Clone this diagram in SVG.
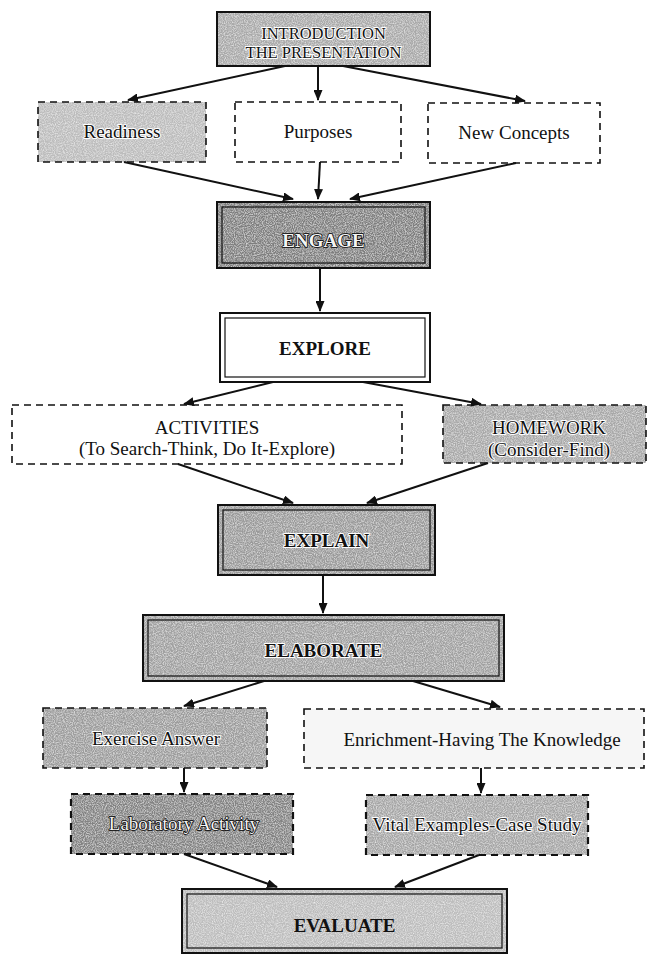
<svg xmlns="http://www.w3.org/2000/svg" width="648" height="956" viewBox="0 0 648 956">
<defs>
<marker id="ah" markerWidth="11" markerHeight="9" refX="10" refY="4.5" orient="auto" markerUnits="userSpaceOnUse">
<path d="M0,0 L11,4.5 L0,9 z" fill="#111"/>
</marker>
<filter id="grain" x="0" y="0" width="100%" height="100%">
<feTurbulence type="fractalNoise" baseFrequency="0.9" numOctaves="2" seed="3" result="n"/>
<feColorMatrix in="n" type="matrix" values="0 0 0 0 1  0 0 0 0 1  0 0 0 0 1  0 0 0 1.2 -0.45" result="a"/>
<feComposite in="a" in2="SourceGraphic" operator="in" result="g"/>
<feMerge><feMergeNode in="SourceGraphic"/><feMergeNode in="g"/></feMerge>
</filter>
<style>
.t{font-family:"Liberation Serif","Times New Roman",serif;font-size:19px;text-anchor:middle;fill:#111}
.b{font-weight:bold}
.emb{fill:#f4f4f4;stroke:#000;stroke-width:1.6px;paint-order:stroke;stroke-linejoin:round}
.halo{stroke:#fff;stroke-width:2px;paint-order:stroke;stroke-linejoin:round}
.dash{stroke:#111;stroke-width:1.6;stroke-dasharray:7 5}
.solid{stroke:#111;stroke-width:2;fill:none}
.inner{stroke:#111;stroke-width:1.2;fill:none}
.c line{stroke:#111;stroke-width:2;marker-end:url(#ah)}
</style>
</defs>
<rect width="648" height="956" fill="#fff"/>

<g id="intro">
<rect x="217" y="12" width="213" height="54" fill="#a9a9a9" filter="url(#grain)"/>
<rect x="217" y="12" width="213" height="54" class="solid"/>
<text class="t halo" x="323.5" y="39" style="font-size:16.5px">INTRODUCTION</text>
<text class="t halo" x="323.5" y="58" style="font-size:16.5px">THE PRESENTATION</text>
</g>

<g id="readiness">
<rect x="38" y="102" width="168" height="60" fill="#bcbcbc" filter="url(#grain)"/>
<rect x="38" y="102" width="168" height="60" fill="none" class="dash"/>
<text class="t halo" x="122" y="138">Readiness</text>
</g>

<g id="purposes">
<rect x="235" y="102" width="166" height="60" fill="#fff" class="dash"/>
<text class="t" x="318" y="138">Purposes</text>
</g>

<g id="newconcepts">
<rect x="428" y="103" width="172" height="60" fill="#fff" class="dash"/>
<text class="t" x="514" y="139">New Concepts</text>
</g>

<g id="engage">
<rect x="217" y="202" width="213" height="66" fill="#7e7e7e" filter="url(#grain)"/>
<rect x="217" y="202" width="213" height="66" class="solid"/>
<rect x="222" y="207" width="203" height="56" class="inner"/>
<text class="t b emb" x="323.5" y="247">ENGAGE</text>
</g>

<g id="explore">
<rect x="220" y="313" width="210" height="69" fill="#fff" class="solid"/>
<rect x="225" y="318" width="200" height="59" class="inner"/>
<text class="t b" x="325" y="355">EXPLORE</text>
</g>

<g id="activities">
<rect x="12" y="405" width="390" height="59" fill="#fff" class="dash"/>
<text class="t" x="207" y="434">ACTIVITIES</text>
<text class="t" x="207" y="455">(To Search-Think, Do It-Explore)</text>
</g>

<g id="homework">
<rect x="443" y="405" width="203" height="58" fill="#a8a8a8" filter="url(#grain)"/>
<rect x="443" y="405" width="203" height="58" fill="none" class="dash"/>
<text class="t halo" x="549" y="434">HOMEWORK</text>
<text class="t halo" x="549" y="456">(Consider-Find)</text>
</g>

<g id="explain">
<rect x="218" y="505" width="217" height="70" fill="#9a9a9a" filter="url(#grain)"/>
<rect x="218" y="505" width="217" height="70" class="solid"/>
<rect x="223" y="510" width="207" height="60" class="inner"/>
<text class="t b halo" x="326.5" y="547">EXPLAIN</text>
</g>

<g id="elaborate">
<rect x="143" y="615" width="361" height="66" fill="#a0a0a0" filter="url(#grain)"/>
<rect x="143" y="615" width="361" height="66" class="solid"/>
<rect x="148" y="620" width="351" height="56" class="inner"/>
<text class="t b halo" x="323.5" y="657">ELABORATE</text>
</g>

<g id="exercise">
<rect x="43" y="708" width="224" height="60" fill="#9c9c9c" filter="url(#grain)"/>
<rect x="43" y="708" width="224" height="60" fill="none" class="dash"/>
<text class="t halo" x="156" y="745">Exercise Answer</text>
</g>

<g id="enrichment">
<rect x="304" y="709" width="340" height="59" fill="#f6f6f6" class="dash"/>
<text class="t" x="482" y="746">Enrichment-Having The Knowledge</text>
</g>

<g id="laboratory">
<rect x="71" y="794" width="222" height="60" fill="#828282" filter="url(#grain)"/>
<rect x="71" y="794" width="222" height="60" fill="none" class="dash" style="stroke-width:2.2"/>
<text class="t emb" x="184" y="830">Laboratory Activity</text>
</g>

<g id="vital">
<rect x="366" y="795" width="222" height="60" fill="#a6a6a6" filter="url(#grain)"/>
<rect x="366" y="795" width="222" height="60" fill="none" class="dash" style="stroke-width:2.2"/>
<text class="t halo" x="477" y="831">Vital Examples-Case Study</text>
</g>

<g id="evaluate">
<rect x="182" y="889" width="325" height="64" fill="#bdbdbd" filter="url(#grain)"/>
<rect x="182" y="889" width="325" height="64" class="solid"/>
<rect x="187" y="894" width="315" height="54" class="inner"/>
<text class="t b" x="344.5" y="932">EVALUATE</text>
</g>

<g id="connectors" class="c">
<line x1="285" y1="66" x2="128" y2="100"/>
<line x1="318" y1="66" x2="318" y2="100"/>
<line x1="343" y1="66" x2="525" y2="101"/>
<line x1="124" y1="162" x2="293" y2="199"/>
<line x1="320" y1="162" x2="318" y2="199"/>
<line x1="516" y1="163" x2="350" y2="199"/>
<line x1="320" y1="268" x2="320" y2="311"/>
<line x1="273" y1="382" x2="184" y2="404"/>
<line x1="363" y1="382" x2="481" y2="404"/>
<line x1="178" y1="464" x2="293" y2="503"/>
<line x1="488" y1="463" x2="367" y2="503"/>
<line x1="323" y1="575" x2="323" y2="613"/>
<line x1="264" y1="681" x2="184" y2="706"/>
<line x1="413" y1="681" x2="500" y2="707"/>
<line x1="184" y1="768" x2="184" y2="792"/>
<line x1="481" y1="768" x2="481" y2="793"/>
<line x1="184" y1="854" x2="277" y2="887"/>
<line x1="479" y1="855" x2="395" y2="887"/>
</g>
</svg>
